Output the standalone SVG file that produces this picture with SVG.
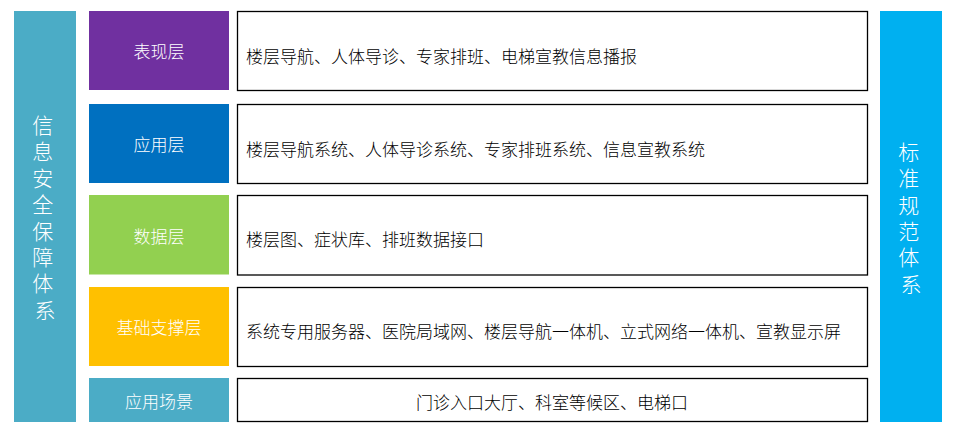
<svg xmlns="http://www.w3.org/2000/svg" width="956" height="436" viewBox="0 0 956 436">
  <style>
    .lbl { font-family: "Noto Sans CJK SC", "Noto Sans", sans-serif; font-size: 17px; font-weight: 300; fill: #ffffff; text-anchor: middle; dominant-baseline: central; }
    .desc { font-family: "Noto Sans CJK SC", "Noto Sans", sans-serif; font-size: 17px; font-weight: 300; fill: #000000; dominant-baseline: central; }
    .vert { font-family: "Noto Sans CJK SC", "Noto Sans", sans-serif; font-size: 21px; font-weight: 300; fill: #ffffff; text-anchor: middle; dominant-baseline: central; }
    .box { fill: #ffffff; stroke: #000000; stroke-width: 1.3; }
  </style>
  <rect width="956" height="436" fill="#ffffff"/>

  <g id="security">
    <rect x="14" y="11" width="62" height="411" fill="#4BACC6"/>
    <text class="vert">
      <tspan x="45" y="124">信</tspan>
      <tspan x="45" dy="26.4">息</tspan>
      <tspan x="45" dy="26.4">安</tspan>
      <tspan x="45" dy="26.4">全</tspan>
      <tspan x="45" dy="26.4">保</tspan>
      <tspan x="45" dy="26.4">障</tspan>
      <tspan x="45" dy="26.4">体</tspan>
      <tspan x="45" dy="26.4">系</tspan>
    </text>
  </g>

  <g id="standard">
    <rect x="880" y="11" width="62" height="411" fill="#00B0F0"/>
    <text class="vert">
      <tspan x="911" y="151">标</tspan>
      <tspan x="911" dy="26.3">准</tspan>
      <tspan x="911" dy="26.3">规</tspan>
      <tspan x="911" dy="26.3">范</tspan>
      <tspan x="911" dy="26.3">体</tspan>
      <tspan x="911" dy="26.3">系</tspan>
    </text>
  </g>

  <g id="presentation">
    <rect x="89" y="11" width="140" height="79" fill="#7030A0"/>
    <text class="lbl" x="159" y="50.5">表现层</text>
    <rect class="box" x="237.5" y="11.5" width="630" height="79"/>
    <text class="desc" x="246" y="55">楼层导航、人体导诊、专家排班、电梯宣教信息播报</text>
  </g>

  <g id="application">
    <rect x="89" y="104" width="140" height="79" fill="#0070C0"/>
    <text class="lbl" x="159" y="143.5">应用层</text>
    <rect class="box" x="237.5" y="104.5" width="630" height="79"/>
    <text class="desc" x="246" y="148.5">楼层导航系统、人体导诊系统、专家排班系统、信息宣教系统</text>
  </g>

  <g id="data">
    <rect x="89" y="195" width="140" height="79.5" fill="#92D050"/>
    <text class="lbl" x="159" y="235">数据层</text>
    <rect class="box" x="237.5" y="195.5" width="630" height="79.5"/>
    <text class="desc" x="246" y="238.5">楼层图、症状库、排班数据接口</text>
  </g>

  <g id="infrastructure">
    <rect x="89" y="287" width="140" height="79" fill="#FFC000"/>
    <text class="lbl" x="159" y="326.5">基础支撑层</text>
    <rect class="box" x="237.5" y="287.5" width="630" height="79"/>
    <text class="desc" x="246" y="330">系统专用服务器、医院局域网、楼层导航一体机、立式网络一体机、宣教显示屏</text>
  </g>

  <g id="scenario">
    <rect x="89" y="378" width="140" height="44" fill="#4BACC6"/>
    <text class="lbl" x="159" y="400.5">应用场景</text>
    <rect class="box" x="237.5" y="378.5" width="630" height="43"/>
    <text class="desc" x="552" y="401" text-anchor="middle">门诊入口大厅、科室等候区、电梯口</text>
  </g>

  <g id="connectors"></g>
</svg>
